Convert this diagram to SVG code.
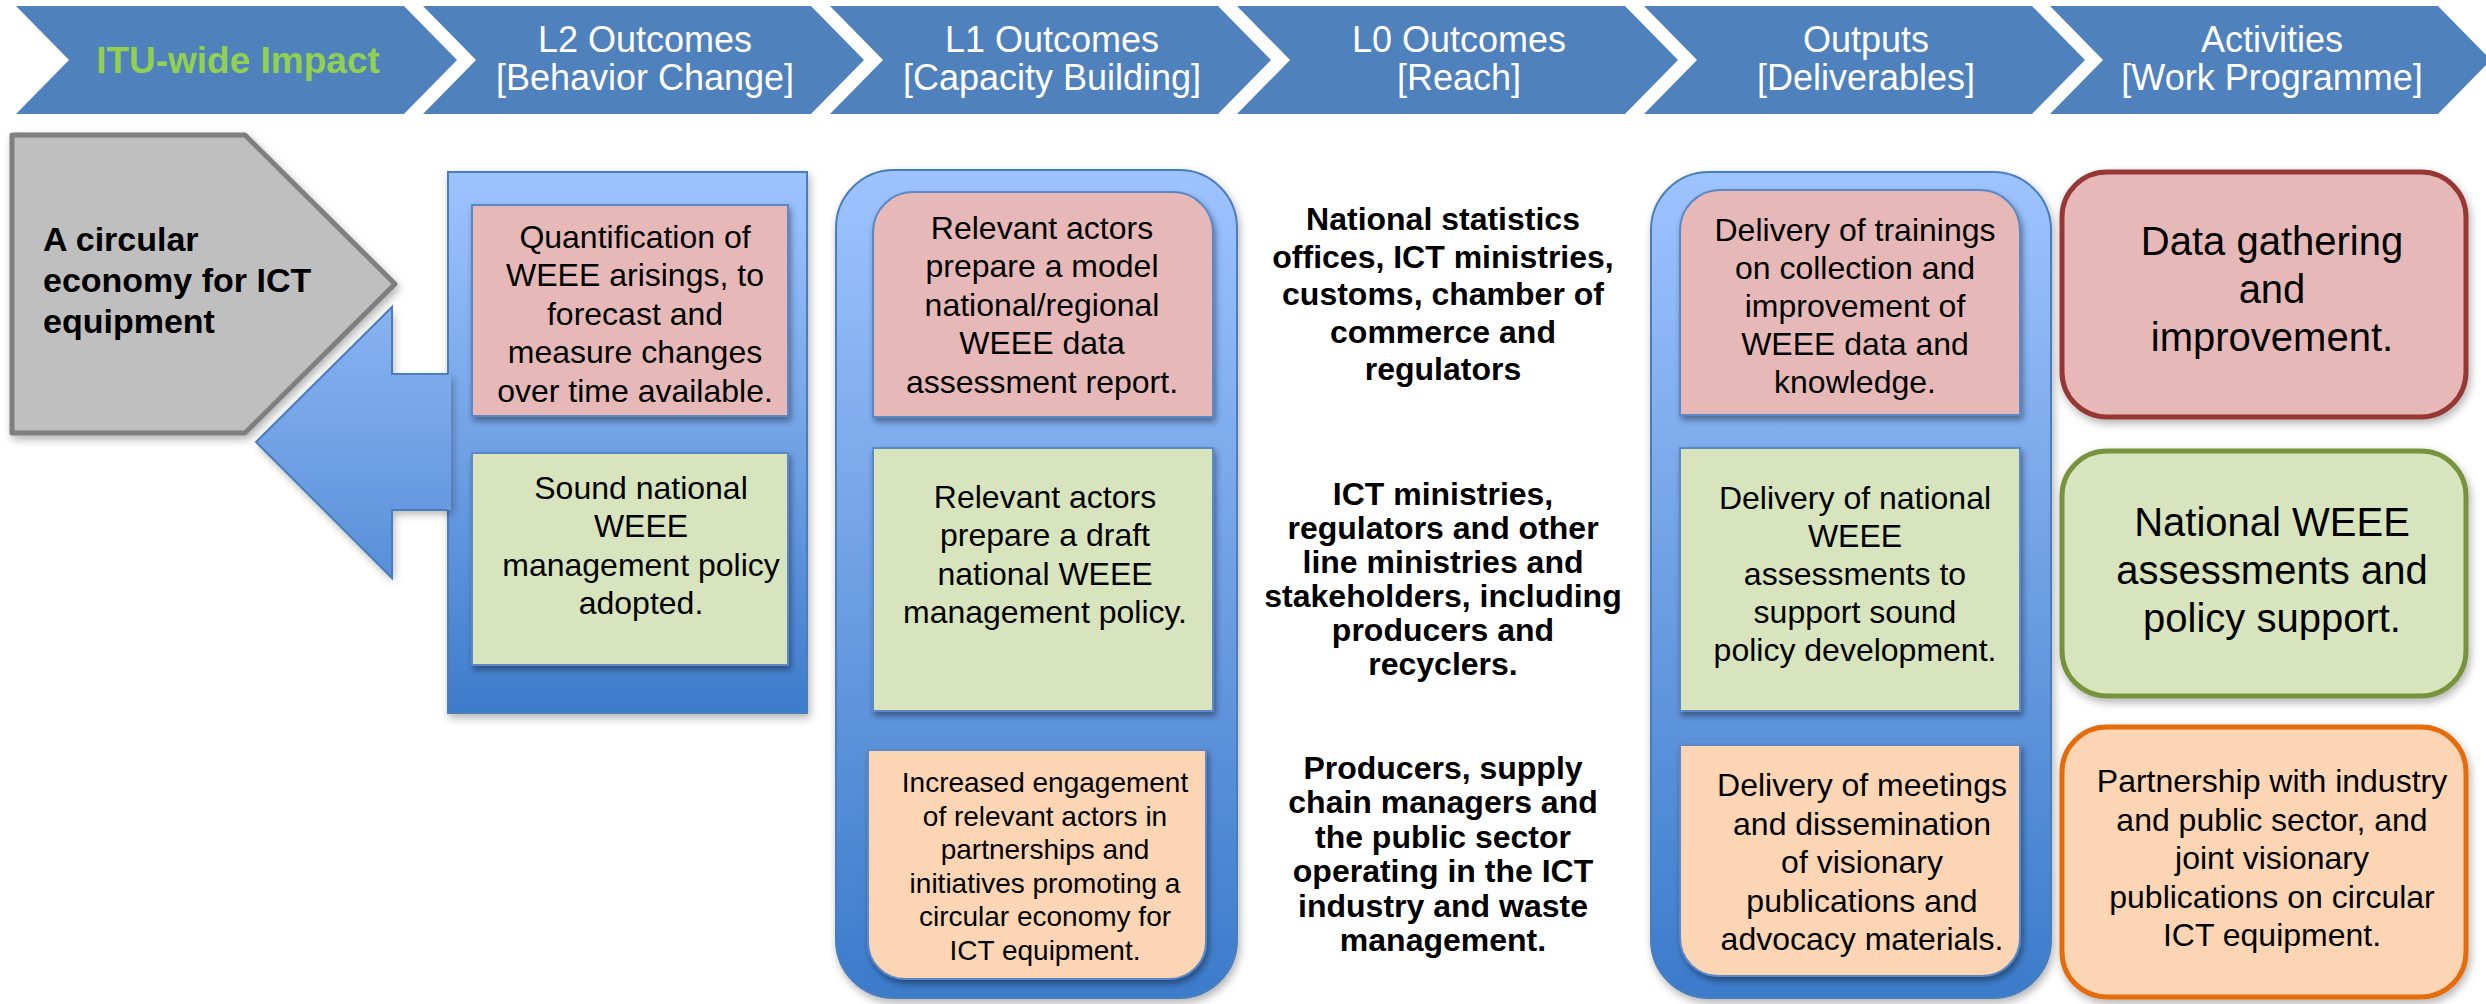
<svg xmlns="http://www.w3.org/2000/svg" width="2486" height="1004" viewBox="0 0 2486 1004">
<defs>
<linearGradient id="colG" x1="0" y1="0" x2="0" y2="1">
<stop offset="0" stop-color="#9EC4FF"/><stop offset="0.5" stop-color="#6E9FE3"/><stop offset="1" stop-color="#3B7BCB"/>
</linearGradient>
<linearGradient id="l2G" gradientUnits="userSpaceOnUse" x1="0" y1="172" x2="0" y2="713">
<stop offset="0" stop-color="#9EC4FF"/><stop offset="0.5" stop-color="#72A2E6"/><stop offset="1" stop-color="#3D7CCB"/>
</linearGradient>
<filter id="sh" x="-10%" y="-10%" width="120%" height="125%">
<feDropShadow dx="2" dy="4" stdDeviation="3" flood-color="#000" flood-opacity="0.4"/>
</filter>
<filter id="sh2" x="-10%" y="-10%" width="120%" height="125%">
<feDropShadow dx="2" dy="4" stdDeviation="4" flood-color="#000" flood-opacity="0.3"/>
</filter>
</defs>
<style>
text{font-family:"Liberation Sans",Arial,sans-serif;text-anchor:middle;fill:#000}
.chev{fill:#4F81BD}
.ht{font-size:36px;fill:#fff}
.b32{font-size:32px}
.b28{font-size:28px}
.b40{font-size:40px}
.bold{font-weight:bold}
.col{fill:url(#colG);stroke:#4A7EBB;stroke-width:2}
.pink{fill:#E6B9B8}
.green{fill:#D7E4BD}
.orange{fill:#FCD5B5}
.ib{stroke:#5B88C6;stroke-width:2;filter:url(#sh)}
.act{stroke-width:5;filter:url(#sh2)}
</style>
<rect width="2486" height="1004" fill="#fff"/>

<g id="header-impact">
<path class="chev" d="M16,6 H404 L457,60 L404,114 H16 L69,60 Z"/>
<text x="238" y="73" class="bold" style="font-size:37px;fill:#92D050">ITU-wide Impact</text>
</g>
<g id="header-l2">
<path class="chev" d="M423,6 H811 L864,60 L811,114 H423 L476,60 Z"/>
<text class="ht"><tspan x="645" y="52">L2 Outcomes</tspan><tspan x="645" y="90">[Behavior Change]</tspan></text>
</g>
<g id="header-l1">
<path class="chev" d="M830,6 H1218 L1271,60 L1218,114 H830 L883,60 Z"/>
<text class="ht"><tspan x="1052" y="52">L1 Outcomes</tspan><tspan x="1052" y="90">[Capacity Building]</tspan></text>
</g>
<g id="header-l0">
<path class="chev" d="M1237,6 H1625 L1678,60 L1625,114 H1237 L1290,60 Z"/>
<text class="ht"><tspan x="1459" y="52">L0 Outcomes</tspan><tspan x="1459" y="90">[Reach]</tspan></text>
</g>
<g id="header-outputs">
<path class="chev" d="M1644,6 H2032 L2085,60 L2032,114 H1644 L1697,60 Z"/>
<text class="ht"><tspan x="1866" y="52">Outputs</tspan><tspan x="1866" y="90">[Deliverables]</tspan></text>
</g>
<g id="header-activities">
<path class="chev" d="M2050,6 H2438 L2491,60 L2438,114 H2050 L2103,60 Z"/>
<text class="ht"><tspan x="2272" y="52">Activities</tspan><tspan x="2272" y="90">[Work Programme]</tspan></text>
</g>

<g id="impact">
<path d="M12,135 H245 L395,284 L245,433 H12 Z" fill="#BFBFBF" stroke="#7F7F7F" stroke-width="5" stroke-linejoin="round" filter="url(#sh2)"/>
<text class="bold" style="font-size:34px;text-anchor:start"><tspan x="43" y="251">A circular</tspan><tspan x="43" y="292">economy for ICT</tspan><tspan x="43" y="333">equipment</tspan></text>
</g>

<g id="l2-outcomes">
<rect x="448" y="172" width="359" height="541" fill="url(#l2G)" stroke="#4A7EBB" stroke-width="2" filter="url(#sh2)"/>
</g>

<g id="connectors">
<path d="M451,374 H392 V307 L256,442 L392,578 V510 H451 Z" fill="url(#l2G)" filter="url(#sh2)"/>
<path d="M451,374 H392 V307 L256,442 L392,578 V510 H451 V374 Z" fill="url(#l2G)"/>
<path d="M448,374 H392 V307 L256,442 L392,578 V510 H448" fill="none" stroke="#4A7EBB" stroke-width="2"/>
</g>

<g id="l2-quantification">
<rect class="pink ib" x="472" y="205" width="316" height="211"/>
<text class="b32"><tspan x="635" y="248">Quantification of</tspan><tspan x="635" y="286.4">WEEE arisings, to</tspan><tspan x="635" y="324.8">forecast and</tspan><tspan x="635" y="363.2">measure changes</tspan><tspan x="635" y="401.6">over time available.</tspan></text>
</g>
<g id="l2-policy">
<rect class="green ib" x="472" y="453" width="316" height="212"/>
<text class="b32"><tspan x="641" y="499">Sound national</tspan><tspan x="641" y="537.4">WEEE</tspan><tspan x="641" y="575.8">management policy</tspan><tspan x="641" y="614.2">adopted.</tspan></text>
</g>

<g id="l1-outcomes">
<rect class="col" x="836" y="170" width="401" height="828" rx="58" filter="url(#sh2)"/>
</g>
<g id="l1-report">
<path class="pink ib" d="M873,417 V232 A40,40 0 0 1 913,192 H1173 A40,40 0 0 1 1213,232 V417 Z"/>
<text class="b32"><tspan x="1042" y="239">Relevant actors</tspan><tspan x="1042" y="277.4">prepare a model</tspan><tspan x="1042" y="315.8">national/regional</tspan><tspan x="1042" y="354.2">WEEE data</tspan><tspan x="1042" y="392.6">assessment report.</tspan></text>
</g>
<g id="l1-policy">
<rect class="green ib" x="873" y="448" width="340" height="263"/>
<text class="b32"><tspan x="1045" y="508">Relevant actors</tspan><tspan x="1045" y="546.4">prepare a draft</tspan><tspan x="1045" y="584.8">national WEEE</tspan><tspan x="1045" y="623.2">management policy.</tspan></text>
</g>
<g id="l1-engagement">
<path class="orange ib" d="M868,750 H1206 V942 A37,37 0 0 1 1169,979 H905 A37,37 0 0 1 868,942 Z"/>
<text class="b28"><tspan x="1045" y="792">Increased engagement</tspan><tspan x="1045" y="825.6">of relevant actors in</tspan><tspan x="1045" y="859.2">partnerships and</tspan><tspan x="1045" y="892.8">initiatives promoting a</tspan><tspan x="1045" y="926.4">circular economy for</tspan><tspan x="1045" y="960">ICT equipment.</tspan></text>
</g>

<g id="l0-reach-data">
<text class="b32 bold"><tspan x="1443" y="230">National statistics</tspan><tspan x="1443" y="267.5">offices, ICT ministries,</tspan><tspan x="1443" y="305">customs, chamber of</tspan><tspan x="1443" y="342.5">commerce and</tspan><tspan x="1443" y="380">regulators</tspan></text>
</g>
<g id="l0-reach-policy">
<text class="b32 bold"><tspan x="1443" y="505">ICT ministries,</tspan><tspan x="1443" y="539">regulators and other</tspan><tspan x="1443" y="573">line ministries and</tspan><tspan x="1443" y="607">stakeholders, including</tspan><tspan x="1443" y="641">producers and</tspan><tspan x="1443" y="675">recyclers.</tspan></text>
</g>
<g id="l0-reach-industry">
<text class="b32 bold"><tspan x="1443" y="779">Producers, supply</tspan><tspan x="1443" y="813.4">chain managers and</tspan><tspan x="1443" y="847.8">the public sector</tspan><tspan x="1443" y="882.2">operating in the ICT</tspan><tspan x="1443" y="916.6">industry and waste</tspan><tspan x="1443" y="951">management.</tspan></text>
</g>

<g id="outputs">
<rect class="col" x="1651" y="172" width="400" height="826" rx="58" filter="url(#sh2)"/>
</g>
<g id="output-trainings">
<path class="pink ib" d="M1680,415 V230 A40,40 0 0 1 1720,190 H1980 A40,40 0 0 1 2020,230 V415 Z"/>
<text class="b32"><tspan x="1855" y="241">Delivery of trainings</tspan><tspan x="1855" y="279">on collection and</tspan><tspan x="1855" y="317">improvement of</tspan><tspan x="1855" y="355">WEEE data and</tspan><tspan x="1855" y="393">knowledge.</tspan></text>
</g>
<g id="output-assessments">
<rect class="green ib" x="1680" y="448" width="340" height="263"/>
<text class="b32"><tspan x="1855" y="509">Delivery of national</tspan><tspan x="1855" y="547">WEEE</tspan><tspan x="1855" y="585">assessments to</tspan><tspan x="1855" y="623">support sound</tspan><tspan x="1855" y="661">policy development.</tspan></text>
</g>
<g id="output-meetings">
<path class="orange ib" d="M1680,745 H2020 V938 A38,38 0 0 1 1982,976 H1718 A38,38 0 0 1 1680,938 Z"/>
<text class="b32"><tspan x="1862" y="796">Delivery of meetings</tspan><tspan x="1862" y="834.5">and dissemination</tspan><tspan x="1862" y="873">of visionary</tspan><tspan x="1862" y="911.5">publications and</tspan><tspan x="1862" y="950">advocacy materials.</tspan></text>
</g>

<g id="activity-data">
<rect class="pink act" x="2062" y="172" width="404" height="245" rx="45" stroke="#953735"/>
<text class="b40"><tspan x="2272" y="255">Data gathering</tspan><tspan x="2272" y="303">and</tspan><tspan x="2272" y="351">improvement.</tspan></text>
</g>
<g id="activity-assessments">
<rect class="green act" x="2062" y="451" width="404" height="245" rx="45" stroke="#77933C"/>
<text class="b40"><tspan x="2272" y="536">National WEEE</tspan><tspan x="2272" y="584">assessments and</tspan><tspan x="2272" y="632">policy support.</tspan></text>
</g>
<g id="activity-partnership">
<rect class="orange act" x="2062" y="727" width="404" height="270" rx="45" stroke="#E46C0A"/>
<text class="b32"><tspan x="2272" y="792">Partnership with industry</tspan><tspan x="2272" y="830.5">and public sector, and</tspan><tspan x="2272" y="869">joint visionary</tspan><tspan x="2272" y="907.5">publications on circular</tspan><tspan x="2272" y="946">ICT equipment.</tspan></text>
</g>
</svg>
